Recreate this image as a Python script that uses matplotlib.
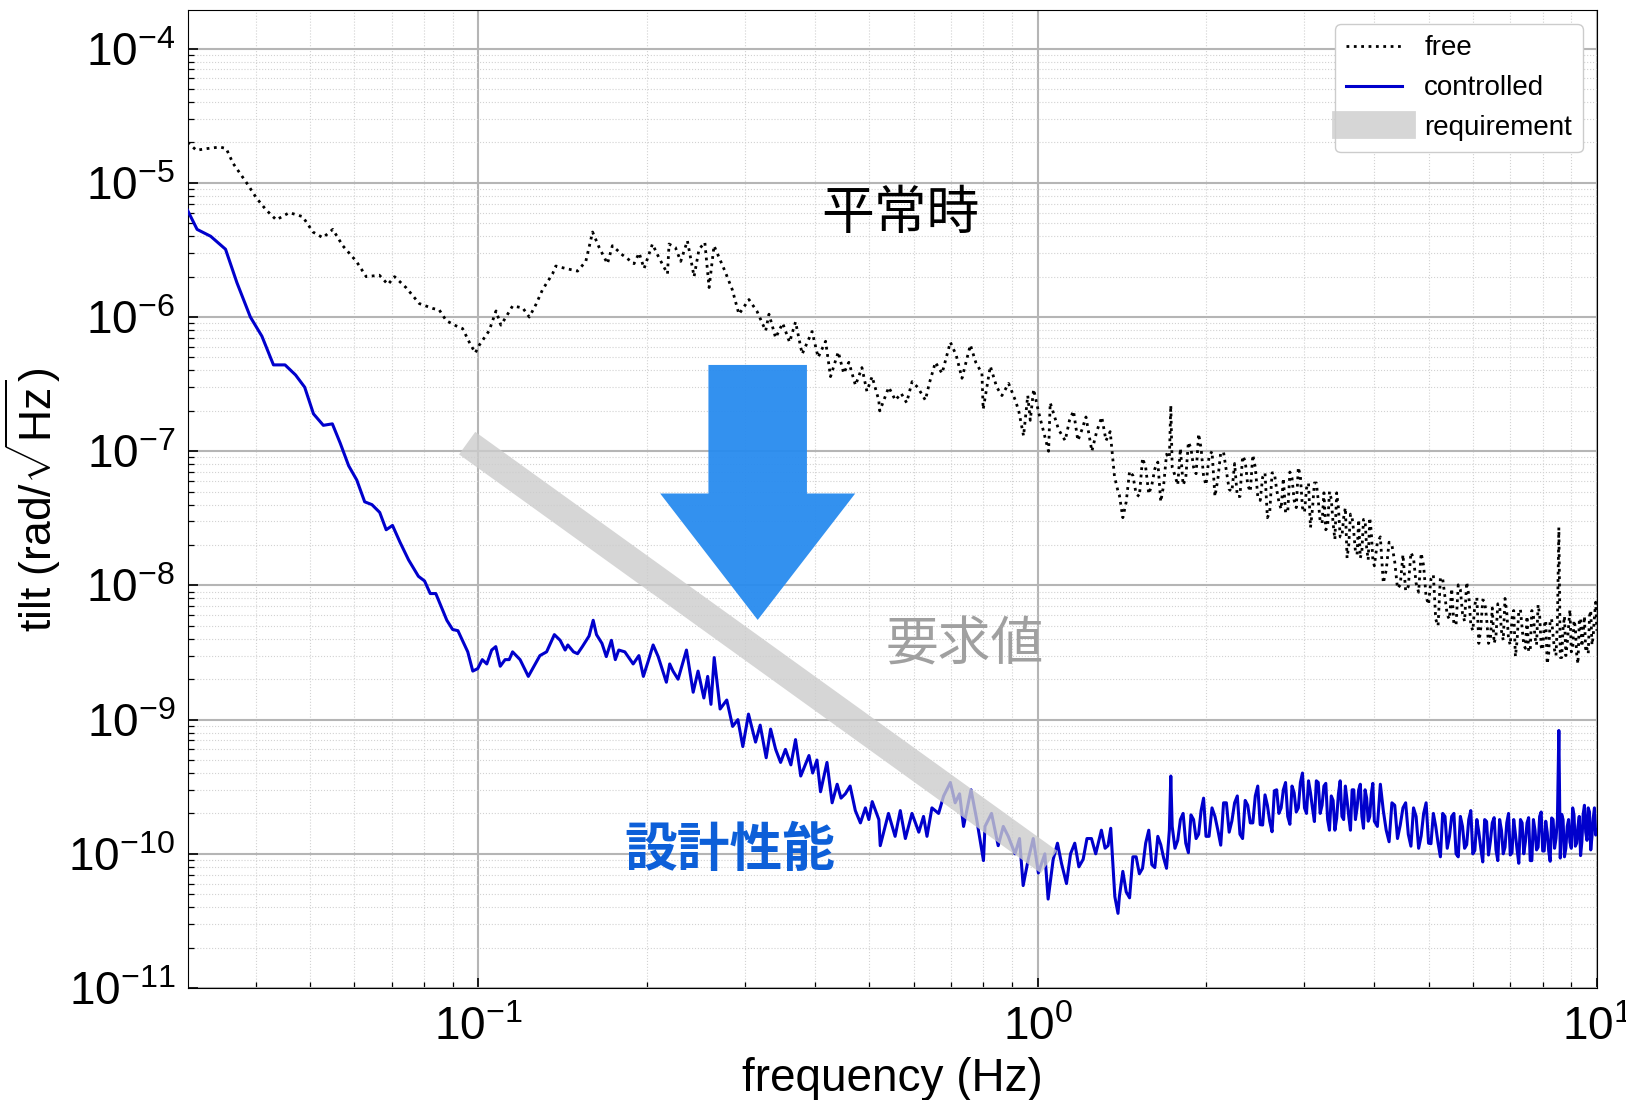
import numpy as np
import matplotlib.pyplot as plt
from matplotlib.patches import FancyArrow
from matplotlib.ticker import NullFormatter

# =========================================================
# DATA
# =========================================================
# free (uncontrolled) tilt, low frequency part
free_freq_lo = [
    0.0302, 0.0313, 0.0327, 0.0345, 0.0354, 0.0364, 0.0385, 0.0401, 0.0417, 0.0435,
    0.0459, 0.0485, 0.0506, 0.0527, 0.0549, 0.0572, 0.0605, 0.0630, 0.0665, 0.0689,
    0.0708, 0.0743, 0.0784, 0.0828, 0.0851, 0.0876, 0.0912, 0.0937, 0.0963, 0.0987,
    0.1004, 0.1045, 0.1075, 0.1097, 0.1120, 0.1151, 0.1200, 0.1233, 0.1267, 0.1302,
    0.1357, 0.1375, 0.1433, 0.1504, 0.1556, 0.1600, 0.1644, 0.1701, 0.1736, 0.1810,
    0.1898, 0.1938, 0.1978, 0.2047, 0.2100, 0.2178, 0.2192, 0.2250, 0.2300, 0.2364,
    0.2430, 0.2480, 0.2540, 0.2585, 0.2638, 0.2759, 0.2844, 0.2923, 0.3046, 0.3150,
    0.3263, 0.3308, 0.3400, 0.3500, 0.3600, 0.3690, 0.3792, 0.3950, 0.4050, 0.4176,
    0.4262, 0.4400, 0.4500, 0.4596, 0.4723, 0.4850, 0.4950, 0.5058, 0.5198, 0.5220,
    0.5417, 0.5566, 0.5700, 0.5830, 0.5963, 0.6100, 0.6299, 0.6400, 0.6564, 0.6746,
    0.6980, 0.7150, 0.7323, 0.7580, 0.7750, 0.7950, 0.7990, 0.8229, 0.8450, 0.8631,
    0.8873, 0.9120, 0.9250, 0.9436, 0.9600, 0.9700, 0.9835, 1.004, 1.046, 1.053,
    1.090, 1.120, 1.140, 1.159, 1.180, 1.200, 1.220, 1.250, 1.275, 1.302,
    1.325, 1.348, 1.372, 1.394,
]
free_lo = [
    2.0e-5, 1.75e-5, 1.8e-5, 1.85e-5, 1.8e-5, 1.4e-5, 1.0e-5, 7.7e-6, 6.3e-6, 5.3e-6,
    6.0e-6, 5.6e-6, 4.3e-6, 3.9e-6, 4.5e-6, 3.4e-6, 2.6e-6, 2.0e-6, 2.05e-6, 1.75e-6,
    2.0e-6, 1.65e-6, 1.26e-6, 1.16e-6, 1.13e-6, 9.4e-7, 8.6e-7, 8.2e-7, 6.5e-7, 5.4e-7,
    6.2e-7, 7.9e-7, 1.11e-6, 8.7e-7, 1.0e-6, 1.21e-6, 1.17e-6, 1.0e-6, 1.24e-6, 1.6e-6,
    2.1e-6, 2.4e-6, 2.3e-6, 2.2e-6, 2.6e-6, 4.3e-6, 3.3e-6, 2.5e-6, 3.4e-6, 2.9e-6,
    2.5e-6, 3.0e-6, 2.3e-6, 3.5e-6, 2.8e-6, 2.1e-6, 3.5e-6, 3.3e-6, 2.6e-6, 3.7e-6,
    2.0e-6, 3.2e-6, 3.6e-6, 1.66e-6, 3.4e-6, 2.2e-6, 1.6e-6, 1.05e-6, 1.35e-6, 1.1e-6,
    7.9e-7, 1.05e-6, 7.0e-7, 9.0e-7, 6.5e-7, 9.2e-7, 5.3e-7, 7.8e-7, 5.0e-7, 6.6e-7,
    3.6e-7, 5.5e-7, 3.8e-7, 4.6e-7, 3.1e-7, 4.2e-7, 2.8e-7, 3.6e-7, 2.4e-7, 2.0e-7,
    3.0e-7, 2.4e-7, 2.7e-7, 2.3e-7, 3.3e-7, 3.0e-7, 2.4e-7, 3.2e-7, 4.6e-7, 3.8e-7,
    6.5e-7, 5.2e-7, 3.5e-7, 6.2e-7, 4.6e-7, 3.8e-7, 2.05e-7, 4.3e-7, 3.0e-7, 2.6e-7,
    3.2e-7, 2.4e-7, 2.0e-7, 1.3e-7, 2.6e-7, 1.7e-7, 2.9e-7, 1.95e-7, 1.0e-7, 2.3e-7,
    1.45e-7, 1.2e-7, 1.7e-7, 2.0e-7, 1.2e-7, 1.45e-7, 1.8e-7, 1.0e-7, 1.4e-7, 1.8e-7,
    1.2e-7, 1.4e-7, 6.5e-8, 4.9e-8,
]

# controlled tilt, low frequency part
ctrl_freq_lo = [
    0.0301, 0.0314, 0.0332, 0.0353, 0.0370, 0.0391, 0.0410, 0.0430, 0.0451, 0.0471,
    0.0489, 0.0507, 0.0528, 0.0548, 0.0566, 0.0586, 0.0606, 0.0626, 0.0645, 0.0666,
    0.0684, 0.0702, 0.0724, 0.0750, 0.0781, 0.0801, 0.0820, 0.0839, 0.0878, 0.0899,
    0.0919, 0.0957, 0.0977, 0.0997, 0.1016, 0.1035, 0.1056, 0.1074, 0.1094, 0.1116,
    0.1135, 0.1151, 0.1187, 0.1228, 0.1288, 0.1324, 0.1367, 0.1400, 0.1429, 0.1445,
    0.1479, 0.1504, 0.1534, 0.1577, 0.1604, 0.1626, 0.1663, 0.1693, 0.1729, 0.1757,
    0.1782, 0.1827, 0.1891, 0.1936, 0.1972, 0.2013, 0.2053, 0.2096, 0.2168, 0.2198,
    0.2228, 0.2275, 0.2355, 0.2421, 0.2470, 0.2530, 0.2570, 0.2605, 0.2640, 0.2705,
    0.2780, 0.2848, 0.2910, 0.2970, 0.3040, 0.3130, 0.3190, 0.3270, 0.3330, 0.3400,
    0.3470, 0.3540, 0.3620, 0.3690, 0.3770, 0.3900, 0.3960, 0.4030, 0.4090, 0.4200,
    0.4290, 0.4380, 0.4450, 0.4530, 0.4620, 0.4720, 0.4820, 0.4920, 0.4990, 0.5060,
    0.5200, 0.5230, 0.5410, 0.5560, 0.5680, 0.5800, 0.5960, 0.6130, 0.6250, 0.6340,
    0.6470, 0.6650, 0.6790, 0.6980, 0.7120, 0.7250, 0.7370, 0.7600, 0.7780, 0.8000,
    0.8050, 0.8270, 0.8500, 0.8680, 0.8860, 0.9110, 0.9280, 0.9420, 0.9620, 0.9820,
    1.0030, 1.0300, 1.0440, 1.0660, 1.0850, 1.1030, 1.1260, 1.1450, 1.1650, 1.1850,
    1.2060, 1.2250, 1.2480, 1.2700, 1.3000, 1.3200, 1.3360, 1.3510, 1.3740, 1.3920,
]
ctrl_lo = [
    6.4e-6, 4.5e-6, 4.0e-6, 3.2e-6, 1.8e-6, 1.0e-6, 7.2e-7, 4.4e-7, 4.4e-7, 3.7e-7,
    3.0e-7, 1.9e-7, 1.56e-7, 1.6e-7, 1.15e-7, 7.8e-8, 6.1e-8, 4.2e-8, 4.0e-8, 3.5e-8,
    2.6e-8, 2.8e-8, 2.1e-8, 1.55e-8, 1.17e-8, 1.08e-8, 8.7e-9, 8.7e-9, 5.5e-9, 4.7e-9,
    4.6e-9, 3.2e-9, 2.3e-9, 2.4e-9, 2.8e-9, 2.6e-9, 3.3e-9, 3.5e-9, 2.5e-9, 2.8e-9,
    2.8e-9, 3.2e-9, 2.8e-9, 2.1e-9, 3.0e-9, 3.2e-9, 4.3e-9, 3.9e-9, 3.3e-9, 3.6e-9,
    3.2e-9, 3.1e-9, 3.5e-9, 4.2e-9, 5.5e-9, 4.3e-9, 3.7e-9, 2.95e-9, 3.9e-9, 2.8e-9,
    3.3e-9, 3.2e-9, 2.6e-9, 3.0e-9, 2.1e-9, 2.75e-9, 3.6e-9, 2.95e-9, 1.9e-9, 2.6e-9,
    2.3e-9, 2.0e-9, 3.3e-9, 1.6e-9, 2.3e-9, 1.45e-9, 2.1e-9, 1.3e-9, 2.9e-9, 1.2e-9,
    1.4e-9, 8.9e-10, 1.0e-9, 6.3e-10, 1.1e-9, 6.8e-10, 9.1e-10, 5.2e-10, 8.5e-10, 6.0e-10,
    4.8e-10, 6.0e-10, 4.6e-10, 7.1e-10, 3.8e-10, 5.4e-10, 4.0e-10, 5.0e-10, 2.9e-10, 4.8e-10,
    2.4e-10, 3.3e-10, 2.6e-10, 2.8e-10, 3.2e-10, 2.1e-10, 1.7e-10, 2.2e-10, 1.8e-10, 2.45e-10,
    1.8e-10, 1.15e-10, 2.0e-10, 1.35e-10, 2.1e-10, 1.3e-10, 2.0e-10, 1.45e-10, 1.9e-10, 1.35e-10,
    2.2e-10, 2.0e-10, 2.7e-10, 3.4e-10, 2.4e-10, 2.8e-10, 1.6e-10, 3.0e-10, 1.8e-10, 8.9e-11,
    1.6e-10, 2.0e-10, 1.15e-10, 1.6e-10, 1.35e-10, 1.0e-10, 1.3e-10, 5.8e-11, 9.1e-11, 1.3e-10,
    7.2e-11, 1.0e-10, 4.6e-11, 9.1e-11, 1.2e-10, 8.5e-11, 6.0e-11, 1.0e-10, 1.2e-10, 8.0e-11,
    9.1e-11, 1.3e-10, 1.3e-10, 1.0e-10, 1.5e-10, 1.1e-10, 1.15e-10, 1.55e-10, 4.8e-11, 3.6e-11,
]

# high frequency part (shared frequency grid, both spectra are noisy here)
hf_freq = [
    1.40, 1.44, 1.48, 1.52, 1.56, 1.60, 1.64, 1.68, 1.72, 1.73, 1.76, 1.80, 1.84, 1.88, 1.92, 1.96,
    2.00, 2.05, 2.10, 2.15, 2.20, 2.25, 2.30, 2.35, 2.40, 2.45,
    2.50, 2.55, 2.60, 2.65, 2.70, 2.75, 2.80, 2.85, 2.90, 2.95,
    3.00, 3.05, 3.10, 3.15, 3.20, 3.25, 3.30, 3.35, 3.40, 3.45,
    3.50, 3.55, 3.60, 3.65, 3.70, 3.75, 3.80, 3.85, 3.90, 3.95,
    4.0, 4.1, 4.2, 4.3, 4.4, 4.5, 4.6, 4.7, 4.8, 4.9,
    5.0, 5.1, 5.2, 5.3, 5.4, 5.5, 5.6, 5.7, 5.8, 5.9,
    6.0, 6.1, 6.2, 6.3, 6.4, 6.5, 6.6, 6.7, 6.8, 6.9,
    7.0, 7.1, 7.2, 7.3, 7.4, 7.5, 7.6, 7.7, 7.8, 7.9,
    8.0, 8.1, 8.2, 8.3, 8.4, 8.5, 8.55, 8.6, 8.7, 8.8, 8.9,
    9.0, 9.1, 9.2, 9.3, 9.4, 9.5, 9.6, 9.7, 9.8, 9.9, 10.0,
]
free_hf = [
    4.7e-8, 4.2e-8, 6.6e-8, 4.6e-8, 7.6e-8, 5.6e-8, 8.3e-8, 5.6e-8, 8.9e-8, 2.2e-7, 6.6e-8, 1.05e-7, 6.3e-8, 1.05e-7, 6.8e-8, 1.05e-7,
    5.6e-8, 1.0e-7, 6.2e-8, 9.8e-8, 5.2e-8, 8.1e-8, 4.6e-8, 8.5e-8, 5.0e-8, 7.6e-8,
    4.3e-8, 6.9e-8, 3.5e-8, 6.9e-8, 4.2e-8, 6.3e-8, 3.5e-8, 6.3e-8, 3.8e-8, 6.5e-8,
    3.5e-8, 5.8e-8, 3.7e-8, 5.8e-8, 3.0e-8, 4.9e-8, 2.75e-8, 4.4e-8, 2.2e-8, 3.8e-8,
    2.3e-8, 3.8e-8, 2.0e-8, 3.2e-8, 1.8e-8, 3.1e-8, 1.8e-8, 3.1e-8, 1.55e-8, 2.5e-8,
    1.4e-8, 2.3e-8, 1.3e-8, 2.0e-8, 9.5e-9, 1.7e-8, 9.8e-9, 1.6e-8, 8.9e-9, 1.4e-8,
    7.2e-9, 1.2e-8, 5.0e-9, 1.12e-8, 6.0e-9, 9.5e-9, 5.1e-9, 9.3e-9, 5.4e-9, 8.5e-9,
    4.6e-9, 8.1e-9, 4.8e-9, 7.6e-9, 3.7e-9, 6.8e-9, 4.2e-9, 7.1e-9, 3.9e-9, 6.3e-9,
    3.6e-9, 6.5e-9, 3.9e-9, 6.6e-9, 3.6e-9, 5.9e-9, 3.3e-9, 6.0e-9, 3.6e-9, 6.0e-9,
    3.3e-9, 5.5e-9, 3.1e-9, 5.6e-9, 3.3e-9, 5.4e-9, 2.7e-8, 2.9e-9, 4.8e-9, 3.0e-9, 5.0e-9,
    3.2e-9, 5.5e-9, 3.1e-9, 5.4e-9, 3.5e-9, 5.9e-9, 3.4e-9, 5.9e-9, 3.6e-9, 5.9e-9, 4.6e-9,
]
ctrl_hf = [
    4.8e-11, 5.2e-11, 9.5e-11, 7.1e-11, 1.2e-10, 8.3e-11, 1.35e-10, 9.3e-11, 1.5e-10, 3.8e-10, 1.1e-10, 1.8e-10, 1.2e-10, 1.95e-10, 1.3e-10, 2.1e-10,
    1.35e-10, 2.2e-10, 1.5e-10, 2.4e-10, 1.45e-10, 2.4e-10, 1.4e-10, 2.5e-10, 1.7e-10, 2.7e-10,
    1.65e-10, 2.75e-10, 1.75e-10, 2.95e-10, 2.0e-10, 3.0e-10, 1.9e-10, 3.2e-10, 2.05e-10, 3.4e-10,
    2.2e-10, 3.5e-10, 2.2e-10, 3.5e-10, 2.0e-10, 3.2e-10, 1.8e-10, 2.7e-10, 1.5e-10, 2.8e-10,
    1.9e-10, 3.2e-10, 1.9e-10, 3.0e-10, 1.8e-10, 3.0e-10, 1.9e-10, 3.0e-10, 1.75e-10, 2.8e-10,
    1.75e-10, 3.3e-10, 1.5e-10, 2.4e-10, 1.3e-10, 2.2e-10, 1.4e-10, 2.2e-10, 1.1e-10, 2.0e-10,
    1.2e-10, 2.0e-10, 1.2e-10, 2.0e-10, 1.1e-10, 1.9e-10, 1.0e-10, 1.9e-10, 1.1e-10, 1.8e-10,
    1.0e-10, 1.8e-10, 1.1e-10, 1.8e-10, 9.8e-11, 1.7e-10, 1.07e-10, 1.8e-10, 1.0e-10, 1.7e-10,
    9.8e-11, 1.8e-10, 1.07e-10, 1.8e-10, 1.0e-10, 1.7e-10, 8.9e-11, 1.8e-10, 1.07e-10, 1.9e-10,
    1.05e-10, 1.75e-10, 1.05e-10, 1.85e-10, 1.1e-10, 1.8e-10, 8.3e-10, 9.3e-11, 1.8e-10, 1.1e-10, 1.8e-10,
    1.1e-10, 1.95e-10, 1.2e-10, 1.9e-10, 1.23e-10, 2.3e-10, 1.26e-10, 2.05e-10, 1.35e-10, 2.2e-10, 1.5e-10,
]

# extra in-between samples of the noisy part (makes the band look dense)
hf_mid_freq = [
    1.42, 1.46, 1.50, 1.54, 1.58, 1.62, 1.66, 1.70, 1.74, 1.78, 1.82, 1.86, 1.90, 1.94, 1.98,
    2.025, 2.075, 2.125, 2.175, 2.225, 2.275, 2.325, 2.375, 2.425, 2.475,
    2.525, 2.575, 2.625, 2.675, 2.725, 2.775, 2.825, 2.875, 2.925, 2.975,
    3.025, 3.075, 3.125, 3.175, 3.225, 3.275, 3.325, 3.375, 3.425, 3.475,
    3.525, 3.575, 3.625, 3.675, 3.725, 3.775, 3.825, 3.875, 3.925, 3.975,
    4.05, 4.15, 4.25, 4.35, 4.45, 4.55, 4.65, 4.75, 4.85, 4.95,
    5.05, 5.15, 5.25, 5.35, 5.45, 5.55, 5.65, 5.75, 5.85, 5.95,
    6.05, 6.15, 6.25, 6.35, 6.45, 6.55, 6.65, 6.75, 6.85, 6.95,
    7.05, 7.15, 7.25, 7.35, 7.45, 7.55, 7.65, 7.75, 7.85, 7.95,
    8.05, 8.15, 8.25, 8.35, 8.45, 8.65, 8.75, 8.85, 8.95,
    9.05, 9.15, 9.25, 9.35, 9.45, 9.55, 9.65, 9.75, 9.85, 9.95,
]
free_mid = [
    3.2e-8, 7.1e-8, 4.8e-8, 8.9e-8, 4.8e-8, 7.4e-8, 4.2e-8, 9.5e-8, 7.6e-8, 5.6e-8, 5.6e-8, 1.17e-7, 7.6e-8, 1.35e-7, 6.5e-8,
    9.1e-8, 4.6e-8, 9.8e-8, 7.1e-8, 5.0e-8, 4.6e-8, 9.2e-8, 5.6e-8, 9.4e-8, 4.6e-8,
    6.4e-8, 3.2e-8, 6.9e-8, 5.2e-8, 3.7e-8, 3.5e-8, 7.0e-8, 4.3e-8, 7.6e-8, 3.8e-8,
    5.3e-8, 2.7e-8, 5.8e-8, 4.3e-8, 2.9e-8, 2.6e-8, 5.0e-8, 2.9e-8, 4.9e-8, 2.3e-8,
    3.2e-8, 1.6e-8, 3.4e-8, 2.5e-8, 1.7e-8, 1.6e-8, 3.1e-8, 1.9e-8, 3.2e-8, 1.55e-8,
    2.1e-8, 1.04e-8, 2.1e-8, 1.5e-8, 1.01e-8, 9.1e-9, 1.76e-8, 1.04e-8, 1.74e-8, 8.2e-9,
    1.12e-8, 5.6e-9, 1.15e-8, 8.2e-9, 5.6e-9, 5.1e-9, 1.01e-8, 6.2e-9, 1.06e-8, 5.1e-9,
    7.2e-9, 3.7e-9, 7.8e-9, 5.7e-9, 4.0e-9, 3.7e-9, 7.3e-9, 4.6e-9, 8.0e-9, 4.0e-9,
    5.7e-9, 2.95e-9, 6.5e-9, 4.8e-9, 3.4e-9, 3.2e-9, 6.5e-9, 4.1e-9, 7.2e-9, 3.5e-9,
    5.0e-9, 2.6e-9, 5.6e-9, 4.2e-9, 3.0e-9, 2.9e-9, 5.9e-9, 3.7e-9, 6.6e-9,
    3.3e-9, 4.9e-9, 2.6e-9, 5.7e-9, 4.4e-9, 3.2e-9, 3.1e-9, 6.5e-9, 4.2e-9, 7.5e-9,
]
ctrl_mid = [
    7.4e-11, 4.7e-11, 9.5e-11, 7.8e-11, 1.5e-10, 7.9e-11, 1.17e-10, 7.8e-11, 1.6e-10, 1.26e-10, 2.0e-10, 1.02e-10, 1.8e-10, 1.4e-10, 2.6e-10,
    1.35e-10, 1.9e-10, 1.16e-10, 2.4e-10, 1.76e-10, 2.7e-10, 1.3e-10, 2.3e-10, 1.7e-10, 3.2e-10,
    1.64e-10, 2.3e-10, 1.46e-10, 3.0e-10, 2.2e-10, 3.4e-10, 1.66e-10, 2.85e-10, 2.2e-10, 4.0e-10,
    2.0e-10, 2.85e-10, 1.74e-10, 3.4e-10, 2.3e-10, 3.35e-10, 1.5e-10, 2.5e-10, 1.84e-10, 3.5e-10,
    1.8e-10, 2.5e-10, 1.5e-10, 3.0e-10, 2.2e-10, 3.3e-10, 1.55e-10, 2.6e-10, 1.9e-10, 3.35e-10,
    1.6e-10, 2.1e-10, 1.23e-10, 2.3e-10, 1.64e-10, 2.4e-10, 1.14e-10, 1.9e-10, 1.36e-10, 2.4e-10,
    1.19e-10, 1.6e-10, 9.5e-11, 1.9e-10, 1.35e-10, 2.0e-10, 9.5e-11, 1.6e-10, 1.17e-10, 2.1e-10,
    1.06e-10, 1.45e-10, 8.7e-11, 1.74e-10, 1.24e-10, 1.86e-10, 8.9e-11, 1.5e-10, 1.12e-10, 2.0e-10,
    1.02e-10, 1.4e-10, 8.5e-11, 1.7e-10, 1.23e-10, 1.86e-10, 8.9e-11, 1.5e-10, 1.12e-10, 2.05e-10,
    1.05e-10, 1.45e-10, 8.8e-11, 1.8e-10, 1.3e-10, 1.97e-10, 9.5e-11, 1.6e-10, 1.22e-10,
    2.2e-10, 1.14e-10, 1.6e-10, 9.7e-11, 1.97e-10, 1.45e-10, 2.2e-10, 1.07e-10, 1.84e-10, 1.38e-10,
]

# requirement line
req_freq = [0.1, 1.0]
req_tilt = [1e-7, 1e-10]

# =========================================================
# STYLE
# =========================================================
plt.rcParams["font.family"] = ["Liberation Sans", "Noto Sans CJK JP"]
plt.rcParams["mathtext.fontset"] = "custom"
plt.rcParams["mathtext.rm"] = "Liberation Sans"
plt.rcParams["mathtext.it"] = "Liberation Sans:italic"
plt.rcParams["mathtext.bf"] = "Liberation Sans:bold"
plt.rcParams["mathtext.sf"] = "Liberation Sans"

JP = ["Noto Sans CJK JP", "DejaVu Sans"]


def merge(*parts):
    # join (freq, value) pieces and order them by frequency
    f = np.concatenate([np.asarray(p[0], float) for p in parts])
    v = np.concatenate([np.asarray(p[1], float) for p in parts])
    order = np.argsort(f, kind="stable")
    return f[order], v[order]


free_f, free_v = merge((free_freq_lo, free_lo), (hf_freq, free_hf), (hf_mid_freq, free_mid))
ctrl_f, ctrl_v = merge((ctrl_freq_lo, ctrl_lo), (hf_freq, ctrl_hf), (hf_mid_freq, ctrl_mid))

# =========================================================
# PLOT
# =========================================================
fig = plt.figure(figsize=(16.26, 11.0), dpi=100)
ax = fig.add_axes([0.1154, 0.1018, 0.8667, 0.8888])

ax.plot(free_f, free_v, ":", color="black", linewidth=2.0, label="free", zorder=3)
ax.plot(ctrl_f, ctrl_v, "-", color="#0000cc", linewidth=2.2, label="controlled", zorder=3)
ax.plot(req_freq, req_tilt, "-", color="#cccccc", alpha=0.8, linewidth=20,
        solid_capstyle="projecting", label="requirement", zorder=4)

ax.set_xscale("log")
ax.set_yscale("log")
ax.set_xlim(0.0302, 10)
ax.set_ylim(1e-11, 1.93e-4)
ax.xaxis.set_minor_formatter(NullFormatter())
ax.yaxis.set_minor_formatter(NullFormatter())

ax.grid(True, which="major", color="#b5b5b5", linewidth=1.5, linestyle="-")
ax.grid(True, which="minor", color="#d2d2d2", linewidth=0.8, linestyle=":")
ax.set_axisbelow(True)

ax.tick_params(which="both", direction="in", top=False, right=False)
ax.tick_params(which="major", length=7, width=1.2, labelsize=33)
ax.tick_params(axis="y", which="major", pad=9)
ax.tick_params(axis="x", which="major", pad=13)
ax.tick_params(which="minor", length=4, width=0.9)

ax.set_xlabel("frequency (Hz)", fontsize=33, labelpad=5)
ax.set_ylabel(r"tilt (rad/$\sqrt{\mathrm{Hz}}$)", fontsize=32, labelpad=4)

ax.legend(loc="upper right", fontsize=20, framealpha=1, edgecolor="#cccccc",
          fancybox=True)

# annotations
ax.text(0.569, 5.9e-6, "平常時", fontsize=38, ha="center", va="center",
        family=JP, color="black", zorder=6)
ax.text(0.742, 3.6e-9, "要求値", fontsize=38, ha="center", va="center",
        family=JP, color="#a0a0a0", zorder=6)
ax.text(0.282, 1.05e-10, "設計性能", fontsize=38, ha="center", va="center",
        family=JP, color="#0d5fd8", fontweight="bold", zorder=6)

arrow = FancyArrow(0.4045, 0.6373, 0, -0.2608, width=0.0699, head_width=0.1384,
                   head_length=0.1293, length_includes_head=True,
                   transform=ax.transAxes, color="#288bef", alpha=0.95,
                   linewidth=0, zorder=5)
ax.add_patch(arrow)

fig.savefig("out.png", dpi=100)
